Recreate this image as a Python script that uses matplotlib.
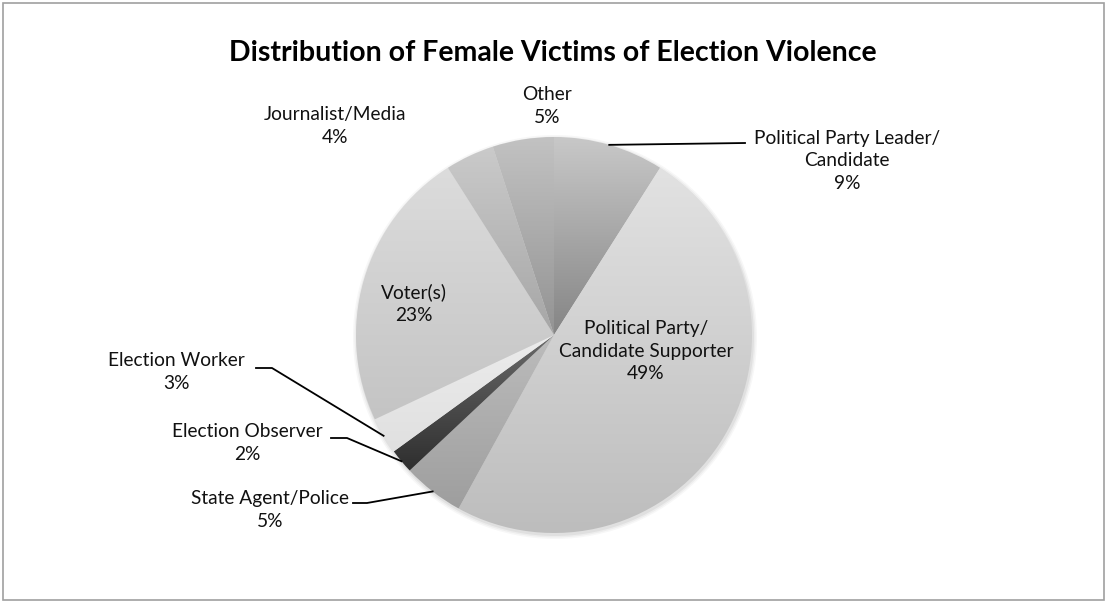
import numpy as np
import matplotlib
matplotlib.use("Agg")
import matplotlib.pyplot as plt
from matplotlib.patches import Rectangle
from matplotlib.colors import LinearSegmentedColormap

# data, clockwise from 12 o'clock
categories = ["Political Party Leader/\nCandidate", "Political Party/\nCandidate Supporter",
              "State Agent/Police", "Election Observer", "Election Worker",
              "Voter(s)", "Journalist/Media", "Other"]
shares = [9, 49, 5, 2, 3, 23, 4, 5]

# gradient (top, bottom) grey per slice
slice_grads = [("#c8c8c8", "#858585"), ("#e2e2e2", "#bdbdbd"), ("#bcbcbc", "#9e9e9e"),
               ("#6a6a6a", "#2e2e2e"), ("#ececec", "#e0e0e0"), ("#dcdcdc", "#c4c4c4"),
               ("#cacaca", "#a6a6a6"), ("#c2c2c2", "#939393")]

W, H = 1106, 601
CX, CY, R = 554, H - 335, 198

plt.rcParams['font.family'] = ['Lato', 'DejaVu Sans']

fig = plt.figure(figsize=(W / 100, H / 100), dpi=100)
ax = fig.add_axes([0, 0, 1, 1])

wedges, _ = ax.pie(shares, startangle=90, counterclock=False, radius=R,
                   center=(CX, CY), wedgeprops=dict(linewidth=0),
                   frame=True)
ax.set_aspect('equal')
ax.axis('off')

# soft shadow under the pie
for k, a in enumerate([0.05, 0.04, 0.03]):
    c = plt.Circle((CX + 1, CY - 2), R + 1 + k * 1.5, color='black', alpha=a, lw=0, zorder=0)
    ax.add_patch(c)

# fill each wedge with a vertical gradient
for w, (top, bot) in zip(wedges, slice_grads):
    w.set_facecolor('none')
    bb = w.get_path().get_extents(w.get_transform() + ax.transData.inverted())
    cmap = LinearSegmentedColormap.from_list('g', [bot, top])
    grad = np.linspace(0, 1, 256).reshape(-1, 1)
    im = ax.imshow(grad, cmap=cmap, extent=[bb.x0, bb.x1, bb.y0, bb.y1],
                   origin='lower', aspect='auto', zorder=1, interpolation='bilinear')
    im.set_clip_path(w)
ax.set_xlim(0, W)
ax.set_ylim(0, H)

fs = 13.8
pct = [f"{v}%" for v in shares]

# label anchor positions (pixels from top-left)
inside = {1: (646, 351), 5: (414, 304)}
outside_top = {0: (847, 161), 6: (335, 126), 7: (547, 106)}
left_lbl = {2: (270, 510), 3: (247, 443), 4: (176, 372)}
left_elbow = {2: (353, 367, 503), 3: (331, 347, 438), 4: (256, 272, 368)}

for i, (x, y) in {**inside, **outside_top, **left_lbl}.items():
    ax.text(x, H - y, f"{categories[i]}\n{pct[i]}", ha='center', va='center',
            fontsize=fs, color='#111111', linespacing=1.4, zorder=5)

mids = []
cum = 0
for v in shares:
    mids.append(np.deg2rad(90 - (cum + v / 2) * 3.6))
    cum += v

# leader line for the party leader slice
a = mids[0]
ex, ey = CX + R * np.cos(a), CY + R * np.sin(a)
ax.plot([ex, 745], [ey, H - 143], color='black', lw=1.3, zorder=6)

for i, (x0, x1, yy) in left_elbow.items():
    a = mids[i]
    ex, ey = CX + R * np.cos(a), CY + R * np.sin(a)
    ax.plot([x0, x1, ex], [H - yy, H - yy, ey], color='black', lw=1.3, zorder=6)

ax.text(W / 2, H - 53, "Distribution of Female Victims of Election Violence",
        ha='center', va='center', fontsize=20.5, fontweight='bold', color='black')

fig.patches.append(Rectangle((2.5 / W, 1.0 / H), (1101.5) / W, (597.5) / H,
                             transform=fig.transFigure, fill=False,
                             edgecolor='#a0a0a0', lw=1.2))

fig.savefig("out.png", dpi=100)
